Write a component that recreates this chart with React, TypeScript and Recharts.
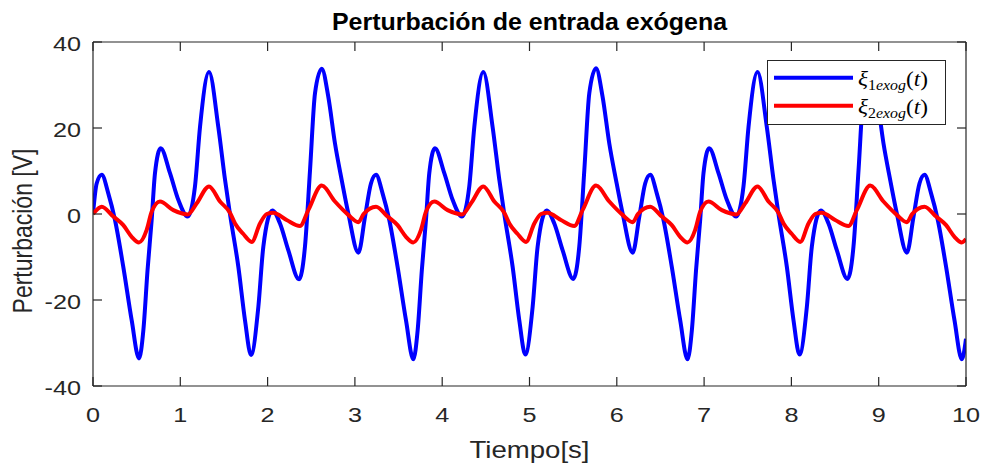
import React from 'react';
import { LineChart, Line, XAxis, YAxis, Legend } from 'recharts';

// ---- data ----
const xTicks = [0, 1, 2, 3, 4, 5, 6, 7, 8, 9, 10];
const yTicks = [-40, -20, 0, 20, 40];

const xi1Times = [
  0, 0.042, 0.1, 0.175, 0.252, 0.347, 0.443, 0.527, 0.577, 0.625, 0.672, 0.71, 0.775, 0.882, 0.977, 1.085, 1.168, 1.226, 1.329, 1.435, 1.512, 1.569, 1.665, 1.741, 1.81, 1.894, 1.951, 2.054, 2.142, 2.237, 2.36, 2.428, 2.486, 2.543, 2.62, 2.695, 2.772, 2.849, 2.924, 3.04, 3.116,
  3.184, 3.242, 3.317, 3.394, 3.489, 3.585, 3.669, 3.719, 3.767, 3.814, 3.852, 3.917, 4.024, 4.119, 4.227, 4.31, 4.368, 4.471, 4.577, 4.654, 4.711, 4.807, 4.883, 4.952, 5.036, 5.093, 5.196, 5.284, 5.379, 5.502, 5.57, 5.628, 5.685, 5.762, 5.837, 5.914, 5.991, 6.066, 6.182, 6.258,
  6.325, 6.383, 6.458, 6.535, 6.63, 6.726, 6.81, 6.86, 6.908, 6.955, 6.993, 7.058, 7.165, 7.26, 7.368, 7.451, 7.509, 7.612, 7.718, 7.795, 7.852, 7.948, 8.024, 8.093, 8.177, 8.234, 8.337, 8.425, 8.52, 8.643, 8.711, 8.769, 8.826, 8.903, 8.978, 9.055, 9.132, 9.207, 9.323, 9.399,
  9.467, 9.525, 9.6, 9.677, 9.772, 9.868, 9.952, 10.0,
];
const xi1Values = [
  0, 7.1, 9.1, 4.8, -1.4, -12.3, -24.7, -33.6, -27.0, -13.0, -1.4, 9.5, 15.3, 9.5, 3.3, -0.6, 6.4, 20.3, 33.0, 20.3, 8.0, 0.0, -12.3, -24.7, -32.8, -21.6, -7.6, 0.8, -2.2, -8.4, -15.2, -7.6, 10.2, 28.1, 33.8, 27.3, 16.4, 7.9, 0.2, -9.0, -0.6,
  7.1, 9.1, 4.8, -1.4, -12.3, -24.7, -33.8, -27.0, -13.0, -1.4, 9.5, 15.3, 9.5, 3.3, -0.6, 6.4, 20.3, 33.0, 20.3, 8.0, 0.0, -12.3, -24.7, -32.7, -21.6, -7.6, 0.8, -2.2, -8.4, -15.1, -7.6, 10.2, 28.1, 33.9, 27.3, 16.4, 7.9, 0.2, -9.0, -0.6,
  7.1, 9.1, 4.8, -1.4, -12.3, -24.7, -33.8, -27.0, -13.0, -1.4, 9.5, 15.3, 9.5, 3.3, -0.6, 6.4, 20.3, 33.0, 20.3, 8.0, 0.0, -12.3, -24.7, -32.7, -21.6, -7.6, 0.8, -2.2, -8.4, -15.1, -7.6, 10.2, 28.1, 33.9, 27.3, 16.4, 7.9, 0.2, -9.0, -0.6,
  7.1, 9.1, 4.8, -1.4, -12.3, -24.7, -33.8, -29.0,
];

const xi2Times = [
  0, 0.1, 0.233, 0.347, 0.443, 0.527, 0.615, 0.672, 0.767, 0.92, 1.085, 1.188, 1.329, 1.455, 1.569, 1.627, 1.72, 1.818, 1.913, 1.99, 2.065, 2.218, 2.371, 2.466, 2.62, 2.772, 2.924, 3.04, 3.1,
  3.242, 3.375, 3.489, 3.585, 3.669, 3.757, 3.814, 3.909, 4.062, 4.227, 4.33, 4.471, 4.597, 4.711, 4.769, 4.862, 4.96, 5.055, 5.132, 5.207, 5.36, 5.513, 5.608, 5.762, 5.914, 6.066, 6.182, 6.242,
  6.383, 6.516, 6.63, 6.726, 6.81, 6.898, 6.955, 7.05, 7.203, 7.368, 7.471, 7.612, 7.738, 7.852, 7.91, 8.003, 8.101, 8.196, 8.273, 8.348, 8.501, 8.654, 8.749, 8.903, 9.055, 9.207, 9.323, 9.383,
  9.525, 9.658, 9.772, 9.868, 9.952, 10.0,
];
const xi2Values = [
  0, 1.7, -0.6, -2.6, -5.3, -6.6, -3.7, 0.5, 2.9, 0.9, -0.1, 2.5, 6.4, 2.9, 0.3, -2.2, -4.6, -6.5, -2.2, 0.0, 0.3, -1.4, -2.8, 0.9, 6.6, 2.9, -0.2, -1.9, 0.0,
  1.7, -0.6, -2.6, -5.3, -6.6, -3.7, 0.5, 2.9, 0.9, -0.1, 2.5, 6.4, 2.9, 0.3, -2.2, -4.6, -6.5, -2.2, 0.0, 0.3, -1.4, -2.8, 0.9, 6.6, 2.9, -0.2, -1.9, 0.0,
  1.7, -0.6, -2.6, -5.3, -6.6, -3.7, 0.5, 2.9, 0.9, -0.1, 2.5, 6.4, 2.9, 0.3, -2.2, -4.6, -6.5, -2.2, 0.0, 0.3, -1.4, -2.8, 0.9, 6.6, 2.9, -0.2, -1.9, 0.0,
  1.7, -0.6, -2.6, -5.3, -6.6, -5.8,
];

const titleText = 'Perturbación de entrada exógena';
const xLabelText = 'Tiempo[s]';
const yLabelText = 'Perturbación [V]';

const xi1Data = xi1Times.map((t, i) => ({ t, v: xi1Values[i] }));
const xi2Data = xi2Times.map((t, i) => ({ t, v: xi2Values[i] }));

// ---- styling ----
const SX = 1.2;
const AXIS_COLOR = '#262626';
const FONT = '"Liberation Sans", Arial, Helvetica, sans-serif';
const SERIF = '"Liberation Serif", "DejaVu Serif", serif';
const TICK_SIZE = 21;
const LABEL_SIZE = 23;
const LINE_W = 4;

const BottomTick = (props: any) => {
  const { x, y, payload } = props;
  return (
    <text transform={`translate(${x},${y + 35.5}) scale(${SX},1)`} textAnchor="middle" fontSize={TICK_SIZE} fontFamily={FONT} fill={AXIS_COLOR}>
      {payload.value}
    </text>
  );
};

const LeftTick = (props: any) => {
  const { x, y, payload } = props;
  return (
    <text transform={`translate(${x - 12},${y + 8.5}) scale(${SX},1)`} textAnchor="end" fontSize={TICK_SIZE} fontFamily={FONT} fill={AXIS_COLOR}>
      {payload.value}
    </text>
  );
};

const NoTick = () => <g />;

const XLabel = (props: any) => {
  const vb = props.viewBox || { x: 93, y: 386, width: 873, height: 78 };
  return (
    <text transform={`translate(${vb.x + vb.width / 2},${vb.y + 72}) scale(${SX},1)`} textAnchor="middle" fontSize={LABEL_SIZE} fontFamily={FONT} fill={AXIS_COLOR}>
      {xLabelText}
    </text>
  );
};

const YLabel = (props: any) => {
  const vb = props.viewBox || { x: 0, y: 42, width: 93, height: 344 };
  return (
    <text transform={`translate(32,${vb.y + vb.height / 2 + 17}) scale(${SX},1) rotate(-90)`} textAnchor="middle" fontSize={LABEL_SIZE} fontFamily={FONT} fill={AXIS_COLOR}>
      {yLabelText}
    </text>
  );
};

const LegendEntry = ({ y, color, index }: { y: number; color: string; index: string }) => (
  <g>
    <line x1={6} x2={85} y1={y} y2={y} stroke={color} strokeWidth={LINE_W} />
    <text transform={`translate(90,${y + 8.5}) scale(1.06,1)`} fontFamily={SERIF} fontSize={22} fill="#000">
      <tspan fontStyle="italic">ξ</tspan>
      <tspan fontSize={15} dy={4}>{index}</tspan>
      <tspan fontSize={15} fontStyle="italic">exog</tspan>
      <tspan dy={-4}>(</tspan>
      <tspan fontStyle="italic">t</tspan>
      <tspan>)</tspan>
    </text>
  </g>
);

const renderLegend = () => (
  <div style={{ width: 179, height: 65, boxSizing: 'border-box', border: `1px solid ${AXIS_COLOR}`, background: '#fff' }}>
    <svg width={177} height={63} style={{ display: 'block' }}>
      <LegendEntry y={16.7} color="#0000ff" index="1" />
      <LegendEntry y={44.7} color="#ff0000" index="2" />
    </svg>
  </div>
);

export default function App() {
  return (
    <div style={{ position: 'absolute', left: 0, top: 0, width: 983, height: 464, background: '#fff' }}>
      <svg width={983} height={42} style={{ position: 'absolute', left: 0, top: 0 }}>
        <text transform="translate(529.5,30) scale(1.04,1)" textAnchor="middle" fontSize={24} fontWeight="bold" fontFamily={FONT} fill="#000">
          {titleText}
        </text>
      </svg>
      <LineChart width={983} height={464} margin={{ top: 41, right: 16, bottom: 0, left: 0 }} style={{ position: 'absolute', left: 0, top: 0 }}>
        <XAxis
          dataKey="t"
          type="number"
          domain={[0, 10]}
          ticks={xTicks}
          allowDataOverflow
          height={78}
          tickSize={-9}
          tickMargin={9}
          tick={BottomTick}
          axisLine={{ stroke: AXIS_COLOR, strokeWidth: 1.2 }}
          tickLine={{ stroke: AXIS_COLOR, strokeWidth: 1.2 }}
          label={<XLabel />}
        />
        <XAxis
          xAxisId="top"
          orientation="top"
          dataKey="t"
          type="number"
          domain={[0, 10]}
          ticks={xTicks}
          allowDataOverflow
          height={1}
          tickSize={-9}
          tick={NoTick}
          axisLine={{ stroke: AXIS_COLOR, strokeWidth: 1.2 }}
          tickLine={{ stroke: AXIS_COLOR, strokeWidth: 1.2 }}
        />
        <YAxis
          type="number"
          domain={[-40, 40]}
          ticks={yTicks}
          allowDataOverflow
          width={93}
          tickSize={-9}
          tickMargin={9}
          tick={LeftTick}
          axisLine={{ stroke: AXIS_COLOR, strokeWidth: 1.2 }}
          tickLine={{ stroke: AXIS_COLOR, strokeWidth: 1.2 }}
          label={<YLabel />}
        />
        <YAxis
          yAxisId="right"
          orientation="right"
          type="number"
          domain={[-40, 40]}
          ticks={yTicks}
          allowDataOverflow
          width={1}
          tickSize={-9}
          tick={NoTick}
          axisLine={{ stroke: AXIS_COLOR, strokeWidth: 1.2 }}
          tickLine={{ stroke: AXIS_COLOR, strokeWidth: 1.2 }}
        />
        <Line data={xi1Data} dataKey="v" name="xi1" type="monotone" stroke="#0000ff" strokeWidth={LINE_W} dot={false} activeDot={false} isAnimationActive={false} />
        <Line data={xi2Data} dataKey="v" name="xi2" type="monotone" stroke="#ff0000" strokeWidth={LINE_W} dot={false} activeDot={false} isAnimationActive={false} />
        <Legend
          layout="horizontal"
          verticalAlign="middle"
          align="center"
          content={renderLegend}
          wrapperStyle={{ position: 'absolute', left: 767, top: 60, width: 179, height: 65, margin: 0, padding: 0 }}
        />
      </LineChart>
    </div>
  );
}
